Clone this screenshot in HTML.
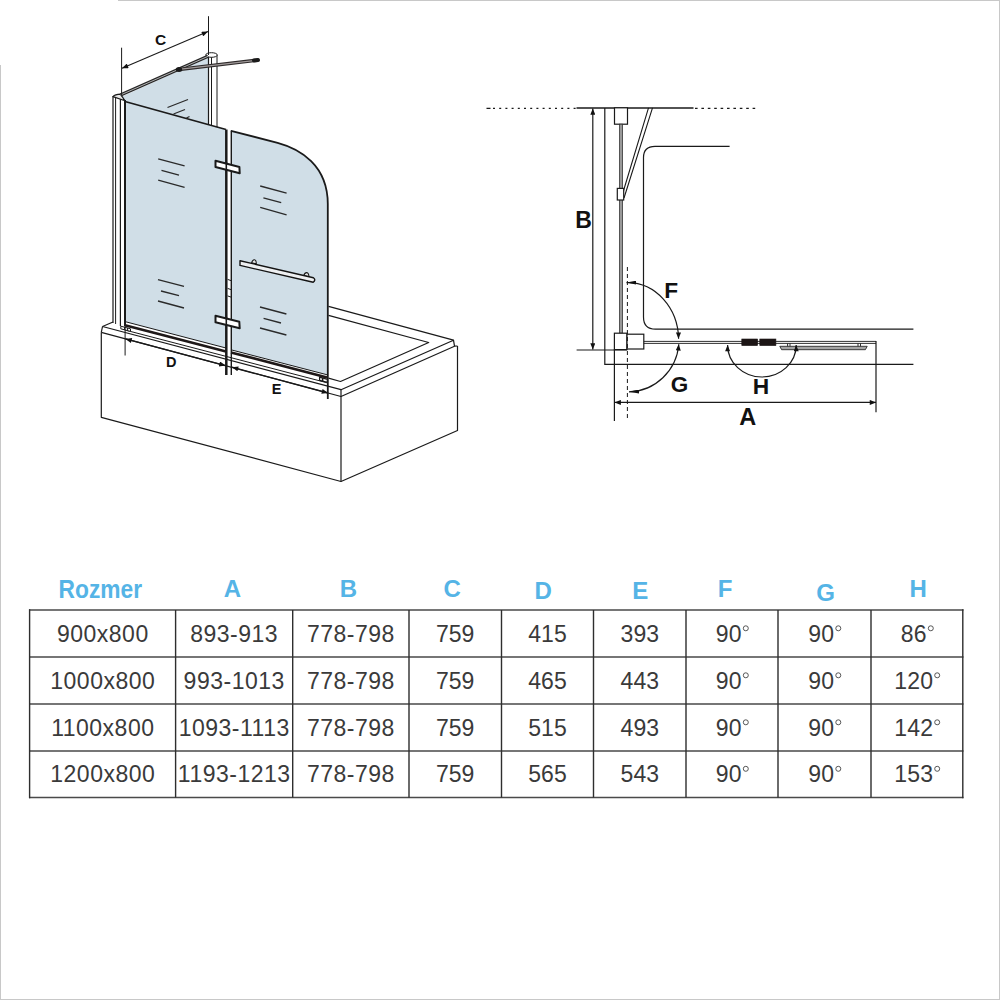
<!DOCTYPE html>
<html><head><meta charset="utf-8">
<style>
html,body{margin:0;padding:0;background:#fff;}
body{width:1000px;height:1000px;overflow:hidden;position:relative;font-family:"Liberation Sans",sans-serif;}
svg{position:absolute;left:0;top:0;}
</style></head>
<body>
<svg width="1000" height="1000" viewBox="0 0 1000 1000">
<defs>
<marker id="ar" viewBox="0 0 10 8" refX="10" refY="4" markerWidth="10" markerHeight="8" markerUnits="userSpaceOnUse" orient="auto-start-reverse">
<path d="M0,0 L10,4 L0,8 z" fill="#111"/>
</marker>
<marker id="ars" viewBox="0 0 10 8" refX="10" refY="4" markerWidth="7.5" markerHeight="5" markerUnits="userSpaceOnUse" orient="auto-start-reverse">
<path d="M0,0 L10,4 L0,8 z" fill="#111"/>
</marker>
<marker id="arl" viewBox="0 0 10 4" refX="10" refY="2" markerWidth="10" markerHeight="4" markerUnits="userSpaceOnUse" orient="auto-start-reverse">
<path d="M0,0 L10,2 L0,4 z" fill="#111"/>
</marker>
</defs>
<!-- page border -->
<g stroke="#c8c8c8" stroke-width="1" fill="none">
<line x1="118" y1="0.5" x2="1000" y2="0.5"/>
<line x1="0.5" y1="65" x2="0.5" y2="1000"/>
<line x1="999.5" y1="0" x2="999.5" y2="1000"/>
<line x1="0" y1="999.5" x2="1000" y2="999.5"/>
</g>

<!-- ============ LEFT DIAGRAM ============ -->
<g id="left" fill="none" stroke="#1a1a1a" stroke-width="1.2" stroke-linejoin="round">
<!-- bathtub -->
<path d="M101.3,332.4 L101.3,417.3 L341,481.5 L457.5,430.5 L457.5,346" />
<path d="M341,396.5 L341,481.5" />
<path d="M101.3,332.4 L341,396.5 L454.5,346.2" />
<path d="M102.5,326.5 L341,389.7 L453.5,340.2 L454.5,346.2 L457.5,346" />
<path d="M102.5,326.5 L101.3,332.4" />
<path d="M341,389.7 L341,396.5" />
<path d="M328.5,306.4 L453.5,340.2" />
<path d="M328.5,315.4 L428.7,342.5 L340.5,381.5 L328.5,378.2" />
<path d="M102.5,326.5 L113,322" />
<!-- back glass panel -->
<path d="M121,97 L208.5,57.5 L208.5,124.5 L125,101.5 Z" fill="#d0dee7" stroke="none"/>
<!-- front left panel -->
<path d="M125,101.5 L226,129.5 L226,348 L125,321.6 Z" fill="#d0dee7" stroke="none"/>
<!-- front right panel -->
<path d="M231,130.8 L277.6,142.8 C300,148.8 327.8,165 327.8,204 L327.8,375 L231,349.8 Z" fill="#d0dee7" stroke="none"/>
<!-- panel outlines -->
<path d="M125,101.5 L226,129.5" stroke-width="1.8"/>
<path d="M231,130.8 L277.6,142.8 C300,148.8 327.8,165 327.8,204 L327.8,399" stroke-width="1.8"/>
<!-- left wall profile -->
<path d="M113,96 L113,323" />
<path d="M115.6,96 L115.6,324" stroke-width="1"/>
<path d="M120.4,97 L120.4,326" />
<path d="M125,100 L125,326" stroke-width="2"/>
<path d="M113,96.6 Q115,94.4 120.5,94.2 L125,100.8 Z" fill="#e8e8e8" stroke-width="1.2"/>
<!-- back post -->
<path d="M208.5,55 L208.5,124.5" />
<path d="M211.5,57 L211.5,125.5" stroke-width="1"/>
<path d="M217,55 L217,127" stroke-width="1"/>
<ellipse cx="211.5" cy="55" rx="5.8" ry="2.3" fill="#fff" stroke-width="1"/>
<!-- top rail -->
<path d="M120.5,95 L208,56.3" stroke="#262626" stroke-width="3.4"/>
<path d="M120.5,95 L208,56.3" stroke="#b0b0b0" stroke-width="1"/>
<!-- support arm -->
<path d="M181,69.2 L257,60.2" stroke="#2e2a2a" stroke-width="3.4" stroke-linecap="round"/>
<path d="M181,69.2 L256,60.3" stroke="#a09a9a" stroke-width="1.3"/>
<path d="M254,60.5 L258,60" stroke="#1a1a1a" stroke-width="4" stroke-linecap="round"/>
<ellipse cx="179" cy="69.6" rx="3.2" ry="2.5" fill="#1a1a1a" stroke="none"/>

<!-- bottom rails -->
<path d="M125,321.6 L226,348" stroke-width="1"/>
<path d="M231,349.8 L328,375" stroke-width="1"/>
<path d="M125,325.2 L226,351.4" stroke-width="2.6" stroke="#1e1818"/>
<path d="M231,352.4 L327,377.4" stroke-width="2.6" stroke="#1e1818"/>
<path d="M125,330 L328,383" stroke-width="1"/>
<!-- end caps -->
<path d="M319.6,377.2 L327.4,379.3 L327.4,382.4 L319.6,380.3 Z" fill="#fff" stroke-width="1.3"/>
<path d="M322.6,378 L322.6,381.2" stroke-width="1.6"/>
<path d="M120.8,326.2 L130.5,328.8 L130.5,331.4 L120.8,328.8 Z" fill="#fff" stroke-width="1"/>
<path d="M124.6,327 L124.6,330 M127.6,328 L127.6,330.8" stroke-width="1"/>
<!-- hatch lines -->
<g stroke-width="1.3" stroke="#2a2a2a">
<path d="M158.2,158.9 L184.6,165.9 M161.5,170.3 L179,175.2 M158.2,180.2 L184.6,187.3"/>
<path d="M260.2,186 L286.6,193.2 M263.4,197.8 L281.2,202.6 M260.2,207.4 L286.6,214.8"/>
<path d="M158,279.6 L184,286.4 M161,291 L179,295.6 M158,301 L184,308"/>
<path d="M260,307 L286.4,314 M263.6,318.4 L281,323 M260,328 L286.4,335"/>
<path d="M167.5,107.5 L188,99.5 M173.5,114 L185,109.5 M186.5,118 L189.5,116.5"/>
</g>
<!-- hinge line -->
<path d="M226.3,129.5 L226.3,375" stroke-width="2.5"/>
<path d="M231.3,130.5 L231.3,375" stroke-width="1.4"/>
<path d="M227.6,279.4 L231,280.6 M227.6,288.4 L231,289.6 M227.6,295.9 L231,297.1" stroke-width="1"/>
<!-- hinge brackets -->
<path d="M215.5,160.8 L239.4,167 L239.7,173.2 L215.5,167 Z" fill="#fff" stroke-width="2" stroke-linejoin="round"/>
<path d="M226.3,162 L226.3,170.5" stroke-width="1.6"/>
<path d="M215.5,315.8 L239.3,321.8 L239.7,328.2 L215.5,322.2 Z" fill="#fff" stroke-width="2" stroke-linejoin="round"/>
<path d="M226.3,317 L226.3,325.5" stroke-width="1.6"/>
<!-- towel bar -->
<path d="M251.6,262.9 Q252.5,259.6 254.5,259.8 Q256.3,260 256.3,263.8 Z" fill="#e6e6e6" stroke-width="1.1"/>
<path d="M303.8,275.5 Q304.8,272.4 306.8,272.6 Q308.8,272.9 309,277 Z" fill="#e6e6e6" stroke-width="1.1"/>
<path d="M240,260.7 L313.4,277.7 Q316.2,279.8 313.2,282.3 L240,265.4 Z" fill="#eef0f2" stroke="#141414" stroke-width="1.4"/>
<!-- C dimension -->
<path d="M121.6,47.7 L121.6,95" stroke-width="1"/>
<path d="M208.5,16.2 L208.5,55" stroke-width="1"/>
<path d="M122,68.3 L208,31.6" stroke-width="1.1" marker-start="url(#ars)" marker-end="url(#ars)"/>
<!-- D dimension -->
<path d="M125.1,326 L125.1,355.5" stroke-width="1"/>
<path d="M125.5,338.9 L225.5,365.6" stroke-width="1.3" marker-start="url(#ars)" marker-end="url(#ars)"/>
<!-- E dimension -->
<path d="M232,367.2 L328,393" stroke-width="1.3" marker-start="url(#ars)" marker-end="url(#ars)"/>
</g>
<g font-family="Liberation Sans, sans-serif" font-weight="bold" fill="#111">
<text x="160.6" y="44.6" font-size="15.5" text-anchor="middle">C</text>
<text x="171.3" y="367.4" font-size="14.5" text-anchor="middle">D</text>
<text x="276.7" y="393.6" font-size="14.5" text-anchor="middle">E</text>
</g>

<!-- ============ RIGHT DIAGRAM ============ -->
<g id="right" fill="none" stroke="#1a1a1a" stroke-width="1.2">
<!-- top dashed line -->
<path d="M486.5,108.3 L576.5,108.3" stroke-dasharray="4,2.5,2,4.2,2,4.2,2,4.2,2,4.2,2,4.2,2,4.2,2,4.2,2,4.2,2,4.2,2,4.2,2,4.2,2,4.2,2,4.2,2,4.2,2,4.2,2,4.2" stroke-width="1.3"/>
<path d="M695,108.3 L758,108.3" stroke-dasharray="2.6,3.8" stroke-width="1.3"/>
<path d="M576.5,108.1 L693.5,108.1" stroke-width="1.5"/>
<!-- wall -->
<path d="M604.8,108 L604.8,364.4 L913.4,364.4" />
<!-- bathtub inner -->
<path d="M729.6,146.3 L655,146.3 Q643.5,146.3 643.5,157.5 L643.5,317 Q643.5,329.2 655.5,329.2 L913.4,329.2" />
<!-- B dimension -->
<path d="M592.8,108.5 L592.8,349.4" stroke-width="1.2" marker-start="url(#ars)" marker-end="url(#ars)"/>
<path d="M576.6,350 L627,350" />
<!-- bracket top -->
<rect x="614.5" y="107.8" width="13" height="16.4" fill="#fff"/>
<!-- glass vertical -->
<rect x="619.6" y="124.2" width="2.8" height="209" fill="#999" stroke="#333" stroke-width="0.8"/>
<!-- diagonal support -->
<path d="M648.5,107.8 L621,199 M652.5,107.8 L624,198" stroke-width="1.1"/>
<rect x="617.3" y="188.4" width="6.4" height="11.6" fill="#fff"/>
<!-- hinge blocks -->
<rect x="614.4" y="333.2" width="12.6" height="16.4" fill="#fff"/>
<rect x="627" y="334.2" width="16.8" height="14.8" fill="#fff"/>
<!-- A extension lines -->
<path d="M614.4,349.6 L614.4,421" />
<path d="M876,341 L876,412.3" />
<!-- glass horizontal -->
<path d="M643.8,341.4 L876,341.4 M643.8,343.4 L876,343.4" stroke-width="0.9"/>
<!-- hinges -->
<rect x="741.8" y="339" width="15.8" height="6.6" fill="#1c1515" stroke="#1c1515" stroke-width="0.6"/>
<rect x="759.8" y="339" width="16.1" height="6.6" fill="#1c1515" stroke="#1c1515" stroke-width="0.6"/>
<!-- towel bar -->
<path d="M779.8,346.3 L867.2,346.3 L865.4,349.7 L781.6,349.7 Z" fill="#a4a4a4" stroke="#2a2a2a" stroke-width="0.9"/>
<path d="M787.6,343.5 L787.6,346.3 M790,343.5 L790,346.3 M858,343.5 L858,346.3 M860.5,343.5 L860.5,346.3" stroke-width="0.9"/>
<!-- dashed vertical -->
<path d="M627.4,267 L627.4,421" stroke-dasharray="4,3" stroke-width="1"/>
<!-- F arc -->
<path d="M626.5,282.6 Q627,282.6 627.8,282.6 A51,57.4 0 0 1 678.6,338.8" stroke-width="1.2" marker-start="url(#arl)" marker-end="url(#ars)"/>
<!-- G arc -->
<path d="M678.8,344.2 A51,52 0 0 1 629,391.8" stroke-width="1.2" marker-start="url(#ars)" marker-end="url(#arl)"/>
<!-- H arc -->
<path d="M727.6,345 A34.3,32 0 0 0 796.2,345" stroke-width="1.2" marker-start="url(#ars)" marker-end="url(#ars)"/>
<!-- A dim -->
<path d="M614.6,402.4 L876,402.4" stroke-width="1.2" marker-start="url(#ars)" marker-end="url(#ars)"/>
</g>
<g font-family="Liberation Sans, sans-serif" font-weight="bold" fill="#111" text-anchor="middle">
<text x="583.5" y="227.6" font-size="23">B</text>
<text x="671.3" y="298.2" font-size="22.7">F</text>
<text x="679.6" y="392.4" font-size="22.5">G</text>
<text x="761" y="394" font-size="22.8">H</text>
<text x="747.8" y="425.3" font-size="23.5">A</text>
</g>

<!-- ============ TABLE ============ -->
<g fill="none">
<path d="M29,610 L963.5,610 M29,657 L963.5,657 M29,704 L963.5,704 M29,751 L963.5,751 M29,797.5 L963.5,797.5" stroke="#4a4a4a" stroke-width="1.6"/>
<path d="M29.6,609.2 L29.6,798.3 M175.6,610 L175.6,797.5 M292.7,610 L292.7,797.5 M409,610 L409,797.5 M501.5,610 L501.5,797.5 M593.5,610 L593.5,797.5 M686,610 L686,797.5 M778,610 L778,797.5 M871,610 L871,797.5 M962.8,609.2 L962.8,798.3" stroke="#2e2e2e" stroke-width="1.4"/>
</g>
<g font-family="Liberation Sans, sans-serif" font-weight="bold" fill="#55b4e6" font-size="24" text-anchor="middle">
<text x="100.3" y="597.8" font-size="25.5" textLength="83.5" lengthAdjust="spacingAndGlyphs">Rozmer</text>
<text x="232.3" y="597">A</text>
<text x="348.3" y="597.4">B</text>
<text x="452.2" y="597.4">C</text>
<text x="543.2" y="598.8">D</text>
<text x="640.2" y="598.8">E</text>
<text x="725.2" y="597.4">F</text>
<text x="825.7" y="600.5">G</text>
<text x="918.2" y="597.4">H</text>
</g>
<g font-family="Liberation Sans, sans-serif" fill="#3a3a3a" font-size="23" text-anchor="middle">
<text x="102.8" y="641.5" letter-spacing="0.5">900x800</text>
<text x="234.2" y="641.5" letter-spacing="0.5">893-913</text>
<text x="350.9" y="641.5" letter-spacing="0.5">778-798</text>
<text x="455.2" y="641.5" letter-spacing="0">759</text>
<text x="547.5" y="641.5" letter-spacing="0">415</text>
<text x="639.8" y="641.5" letter-spacing="0">393</text>
<text x="728.8" y="641.5" letter-spacing="0.3">90</text>
<text x="821.3" y="641.5" letter-spacing="0.3">90</text>
<text x="913.8" y="641.5" letter-spacing="0.3">86</text>
<text x="102.8" y="688.5" letter-spacing="0.5">1000x800</text>
<text x="234.2" y="688.5" letter-spacing="0.5">993-1013</text>
<text x="350.9" y="688.5" letter-spacing="0.5">778-798</text>
<text x="455.2" y="688.5" letter-spacing="0">759</text>
<text x="547.5" y="688.5" letter-spacing="0">465</text>
<text x="639.8" y="688.5" letter-spacing="0">443</text>
<text x="728.8" y="688.5" letter-spacing="0.3">90</text>
<text x="821.3" y="688.5" letter-spacing="0.3">90</text>
<text x="913.8" y="688.5" letter-spacing="0.3">120</text>
<text x="102.8" y="735.5" letter-spacing="0.5">1100x800</text>
<text x="234.2" y="735.5" letter-spacing="0.5">1093-1113</text>
<text x="350.9" y="735.5" letter-spacing="0.5">778-798</text>
<text x="455.2" y="735.5" letter-spacing="0">759</text>
<text x="547.5" y="735.5" letter-spacing="0">515</text>
<text x="639.8" y="735.5" letter-spacing="0">493</text>
<text x="728.8" y="735.5" letter-spacing="0.3">90</text>
<text x="821.3" y="735.5" letter-spacing="0.3">90</text>
<text x="913.8" y="735.5" letter-spacing="0.3">142</text>
<text x="102.8" y="782" letter-spacing="0.5">1200x800</text>
<text x="234.2" y="782" letter-spacing="0.5">1193-1213</text>
<text x="350.9" y="782" letter-spacing="0.5">778-798</text>
<text x="455.2" y="782" letter-spacing="0">759</text>
<text x="547.5" y="782" letter-spacing="0">565</text>
<text x="639.8" y="782" letter-spacing="0">543</text>
<text x="728.8" y="782" letter-spacing="0.3">90</text>
<text x="821.3" y="782" letter-spacing="0.3">90</text>
<text x="913.8" y="782" letter-spacing="0.3">153</text>
</g>
<g fill="none" stroke="#444" stroke-width="0.9">
<circle cx="745.8" cy="628.3" r="2.5"/>
<circle cx="838.3" cy="628.3" r="2.5"/>
<circle cx="930.8" cy="628.3" r="2.5"/>
<circle cx="745.8" cy="675.3" r="2.5"/>
<circle cx="838.3" cy="675.3" r="2.5"/>
<circle cx="937.2" cy="675.3" r="2.5"/>
<circle cx="745.8" cy="722.3" r="2.5"/>
<circle cx="838.3" cy="722.3" r="2.5"/>
<circle cx="937.2" cy="722.3" r="2.5"/>
<circle cx="745.8" cy="768.8" r="2.5"/>
<circle cx="838.3" cy="768.8" r="2.5"/>
<circle cx="937.2" cy="768.8" r="2.5"/>
</g>
</svg>
</body></html>
